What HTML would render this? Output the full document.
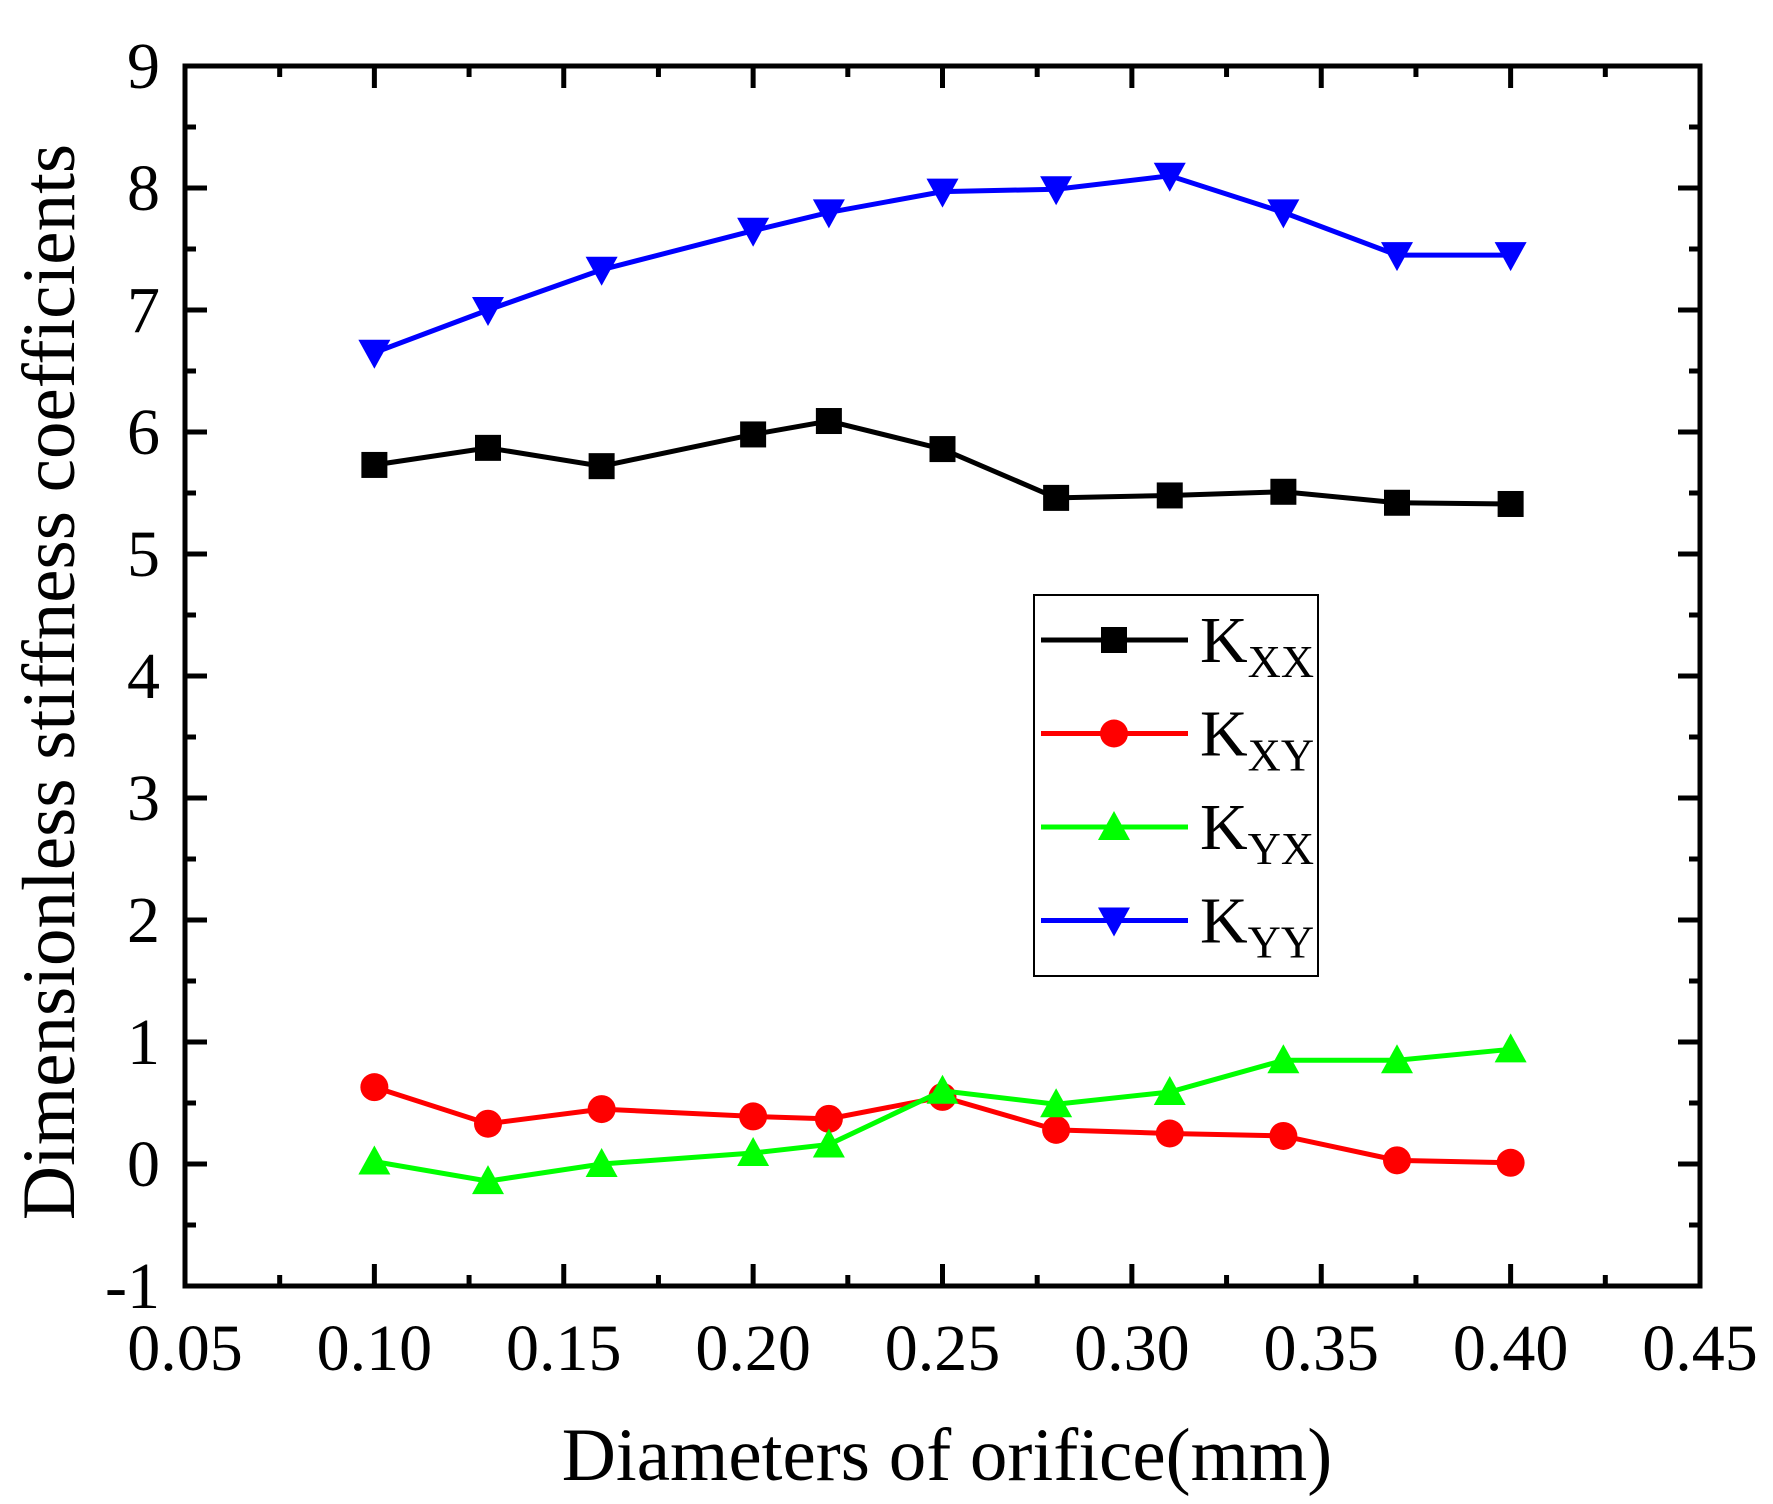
<!DOCTYPE html>
<html><head><meta charset="utf-8"><style>
html,body{margin:0;padding:0;background:#fff;}
svg{display:block;font-family:"Liberation Serif",serif;}
</style></head><body>
<svg id="chart" width="1773" height="1504" viewBox="0 0 1773 1504" xmlns="http://www.w3.org/2000/svg">
<g id="axes"></g>
<g id="series"></g>
<g id="legend"></g>
<text transform="translate(74,682) rotate(-90)" text-anchor="middle" font-size="75">Dimensionless stiffness coefficients</text>
<text x="947" y="1480" text-anchor="middle" font-size="75">Diameters of orifice(mm)</text>
</svg>
<script>
const xValues = [0.10,0.13,0.16,0.20,0.22,0.25,0.28,0.31,0.34,0.37,0.40];
const kxx = [5.73,5.87,5.72,5.98,6.09,5.86,5.46,5.48,5.51,5.42,5.41];
const kxy = [0.63,0.33,0.45,0.39,0.37,0.55,0.28,0.25,0.23,0.03,0.01];
const kyx = [0.02,-0.14,0.00,0.09,0.16,0.60,0.49,0.59,0.85,0.85,0.94];
const kyy = [6.65,7.00,7.33,7.65,7.80,7.97,7.99,8.10,7.80,7.45,7.45];
const xTicks = ["0.05","0.10","0.15","0.20","0.25","0.30","0.35","0.40","0.45"];
const yTicks = ["-1","0","1","2","3","4","5","6","7","8","9"];
const seriesNames = ["XX","XY","YX","YY"];

const NS="http://www.w3.org/2000/svg";
const L=185,R=1700,T=66,B=1286;
const xMin=0.05,xMax=0.45,yMin=-1,yMax=9;
const sx=v=>L+(v-xMin)/(xMax-xMin)*(R-L);
const sy=v=>B-(v-yMin)/(yMax-yMin)*(B-T);
function mk(tag,attrs,parent){const e=document.createElementNS(NS,tag);for(const k in attrs)e.setAttribute(k,attrs[k]);parent.appendChild(e);return e;}
const axes=document.getElementById('axes');
const frame=mk('rect',{x:L,y:T,width:R-L,height:B-T,fill:'none',stroke:'#000','stroke-width':5},axes);


xTicks.forEach((t,i)=>{
  const v=parseFloat(t),x=sx(v);
  [[B,B-22],[T,T+22]].forEach(([a,b])=>{const l=mk('line',{x1:x,x2:x,y1:a,y2:b,stroke:'#000','stroke-width':5},axes);
  
  });
  if(i<xTicks.length-1){const xm=sx(v+0.025);
  [[B,B-11],[T,T+11]].forEach(([a,b])=>{const l=mk('line',{x1:xm,x2:xm,y1:a,y2:b,stroke:'#000','stroke-width':5},axes);
  
  });}
  const tx=mk('text',{x:x,y:1370,'text-anchor':'middle','font-size':66},axes);tx.textContent=t;
  
  
});
yTicks.forEach((t,i)=>{
  const v=parseFloat(t),y=sy(v);
  [[L,L+22],[R,R-22]].forEach(([a,b])=>{const l=mk('line',{x1:a,x2:b,y1:y,y2:y,stroke:'#000','stroke-width':5},axes);
  
  });
  if(i<yTicks.length-1){const ym=sy(v+0.5);
  [[L,L+11],[R,R-11]].forEach(([a,b])=>{const l=mk('line',{x1:a,x2:b,y1:ym,y2:ym,stroke:'#000','stroke-width':5},axes);
  
  });}
  const tx=mk('text',{x:160,y:y+22,'text-anchor':'end','font-size':66},axes);tx.textContent=t;
  
  
});
function marker(shape,x,y,color,parent){
  let e;
  if(shape==='square')e=mk('rect',{x:x-13,y:y-13,width:26,height:26,fill:color},parent);
  else if(shape==='circle')e=mk('circle',{cx:x,cy:y,r:14,fill:color},parent);
  else if(shape==='up')e=mk('polygon',{points:`${x},${y-16} ${x-16},${y+13} ${x+16},${y+13}`,fill:color},parent);
  else e=mk('polygon',{points:`${x},${y+16} ${x-16},${y-13} ${x+16},${y-13}`,fill:color},parent);
  return e;
}
const seriesData=[kxx,kxy,kyx,kyy];
const colors=['#000','#f00','#0f0','#00f'];
const shapes=['square','circle','up','down'];
const sg=document.getElementById('series');
seriesData.forEach((d,si)=>{
  const g=mk('g',{},sg);
  
  
  const pl=mk('polyline',{points:d.map((v,i)=>sx(xValues[i])+','+sy(v)).join(' '),fill:'none',stroke:colors[si],'stroke-width':5},g);
  
  
  d.forEach((v,i)=>{const m=marker(shapes[si],sx(xValues[i]),sy(v),colors[si],g);
  
  });
});
const lg=document.getElementById('legend');
const box=mk('rect',{x:1034,y:595,width:284,height:381,fill:'#fff',stroke:'#000','stroke-width':2},lg);


seriesNames.forEach((n,i)=>{
  const y=640+i*93.5;
  const g=mk('g',{},lg);
  
  
  mk('line',{x1:1041,x2:1188,y1:y,y2:y,stroke:colors[i],'stroke-width':5},g);
  marker(shapes[i],1114,y,colors[i],g);
  const t=mk('text',{x:1200,y:y+22,'font-size':66},g);
  t.innerHTML='K<tspan font-size="46" dy="15">'+n+'</tspan>';
});
</script>
</body></html>
